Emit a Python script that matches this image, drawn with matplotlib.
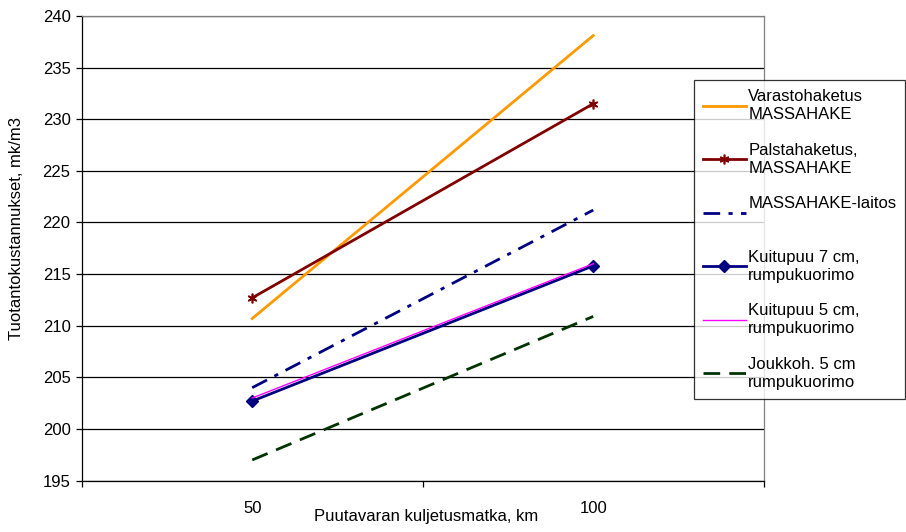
import matplotlib
matplotlib.use("Agg")
import matplotlib.pyplot as plt

plt.rcParams["font.family"] = ["Liberation Sans", "DejaVu Sans"]

# Data
distances = ["50", "100"]
varastohaketus = [210.7, 238.1]
palstahaketus = [212.7, 231.5]
massahake_laitos = [204.0, 221.2]
kuitupuu_7cm = [202.7, 215.8]
kuitupuu_5cm = [203.0, 216.0]
joukkoh_5cm = [197.0, 210.9]

labels = [
    "Varastohaketus\nMASSAHAKE",
    "Palstahaketus,\nMASSAHAKE",
    "MASSAHAKE-laitos\n ",
    "Kuitupuu 7 cm,\nrumpukuorimo",
    "Kuitupuu 5 cm,\nrumpukuorimo",
    "Joukkoh. 5 cm\nrumpukuorimo",
]
yticks = list(range(195, 241, 5))

FS = 12

fig = plt.figure(figsize=(9.06, 5.32), dpi=100)
ax = fig.add_axes([0.0902, 0.0966, 0.7528, 0.8734])

x = [i + 0.5 for i in range(len(distances))]

ax.plot(x, varastohaketus, color="#FF9900", lw=2, label=labels[0])
ax.plot(x, palstahaketus, color="#800000", lw=2, marker=(6, 2, 0),
        ms=7, mew=1.2, label=labels[1])
ax.plot(x, massahake_laitos, color="#000080", lw=2, dashes=(6, 3, 1.5, 3),
        label=labels[2])
ax.plot(x, kuitupuu_7cm, color="#000080", lw=2, marker="D", ms=6,
        label=labels[3])
ax.plot(x, kuitupuu_5cm, color="#FF00FF", lw=1, label=labels[4])
ax.plot(x, joukkoh_5cm, color="#003300", lw=2, dashes=(6, 3.3),
        label=labels[5])

ax.set_xlim(0, len(distances))
ax.set_ylim(195, 240)
ax.set_yticks(yticks)
ax.yaxis.grid(True, color="black", lw=0.9)
ax.set_axisbelow(True)

# category boundaries as major ticks, labels on minor ticks
ax.set_xticks(range(len(distances) + 1))
ax.set_xticklabels([])
ax.set_xticks(x, minor=True)
ax.set_xticklabels(distances, minor=True)
ax.tick_params(axis="x", which="major", direction="out", length=4, width=0.9)
ax.tick_params(axis="x", which="minor", length=0, pad=15, labelsize=FS)
ax.tick_params(axis="y", direction="out", length=4, width=0.9, pad=4,
               labelsize=FS)

for side in ("left", "bottom"):
    ax.spines[side].set_color("black")
    ax.spines[side].set_linewidth(0.9)
for side in ("top", "right"):
    ax.spines[side].set_color("#808080")
    ax.spines[side].set_linewidth(0.9)

fig.text(426 / 906, 1 - 517 / 532, "Puutavaran kuljetusmatka, km",
         ha="center", va="center", fontsize=FS)
fig.text(17 / 906, 1 - 228 / 532, "Tuotantokustannukset, mk/m3",
         ha="center", va="center", rotation=90, fontsize=FS)

leg = ax.legend(loc="upper left", bbox_to_anchor=(694 / 906, 1 - 80 / 532),
                bbox_transform=fig.transFigure, fontsize=FS, frameon=True,
                fancybox=False, handlelength=2.55, handletextpad=0.15,
                labelspacing=1.23, borderpad=0.55, borderaxespad=0)
leg.get_frame().set_edgecolor("black")
leg.get_frame().set_linewidth(0.9)
for t in leg.get_texts():
    t.set_linespacing(1.25)

fig.savefig("out.png", dpi=100)
